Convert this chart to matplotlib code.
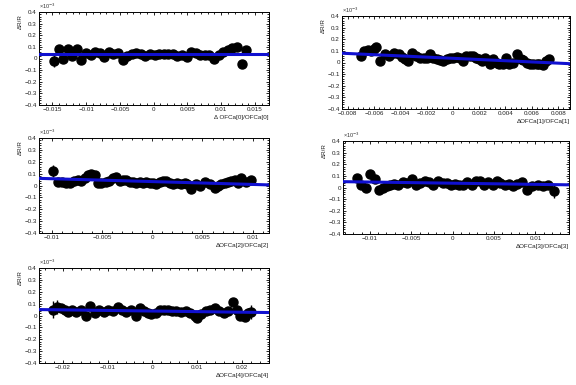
import numpy as np
import matplotlib
matplotlib.use('Agg')
import matplotlib.pyplot as plt
from matplotlib.ticker import AutoMinorLocator, MultipleLocator

plt.rcParams['font.family'] = ['Liberation Sans', 'DejaVu Sans']

# ---- data (y in units of 1e-3) ----
x0 = [-0.01475, -0.01406, -0.01342, -0.01273, -0.01204, -0.01135, -0.01071, -0.01002, -0.00933,
      -0.00863, -0.00799, -0.00735, -0.00666, -0.00597, -0.00528, -0.00459, -0.00395, -0.00326,
      -0.00257, -0.00192, -0.00123, -0.00054, 0.00015, 0.00079, 0.00148, 0.00217, 0.00281,
      0.00350, 0.00419, 0.00488, 0.00553, 0.00622, 0.00691, 0.00760, 0.00824, 0.00893,
      0.00962, 0.01026, 0.01095, 0.01164, 0.01234, 0.01303, 0.01372]
y0 = [-0.02, 0.08, -0.005, 0.08, 0.02, 0.08, -0.01, 0.05, 0.03, 0.06, 0.05, 0.01, 0.06, 0.04,
      0.05, -0.01, 0.02, 0.04, 0.05, 0.04, 0.02, 0.04, 0.03, 0.04, 0.04, 0.04, 0.04, 0.02,
      0.03, 0.01, 0.06, 0.05, 0.03, 0.03, 0.03, 0.0, 0.03, 0.06, 0.07, 0.09, 0.10, -0.05, 0.07]
big_err0 = {0: 0.05, 41: 0.03, 42: 0.03}

x1 = [-0.00695, -0.00672, -0.00647, -0.00619, -0.00599, -0.00581, -0.00551, -0.00518, -0.00485,
      -0.00445, -0.00412, -0.00387, -0.00361, -0.00344, -0.00308, -0.00278, -0.00248, -0.00222,
      -0.00197, -0.00172, -0.00147, -0.00121, -0.00096, -0.00071, -0.00045, -0.0002, 0.00005,
      0.0003, 0.00056, 0.00076, 0.00101, 0.00131, 0.00152, 0.00177, 0.00202, 0.0022, 0.00245,
      0.00263, 0.00283, 0.00308, 0.00334, 0.00354, 0.00379, 0.00404, 0.0043, 0.00455, 0.00485,
      0.00516, 0.00536, 0.00561, 0.00586, 0.00612, 0.00637, 0.00657, 0.00682, 0.00708, 0.00728]
y1 = [0.06, 0.10, 0.11, 0.10, 0.12, 0.13, 0.01, 0.07, 0.06, 0.08,
      0.07, 0.05, 0.03, 0.01, 0.08, 0.06, 0.04, 0.04, 0.04, 0.07,
      0.04, 0.03, 0.02, 0.01, 0.03, 0.04, 0.04, 0.05, 0.04, 0.01,
      0.06, 0.06, 0.06, 0.04, 0.03, 0.01, 0.04, 0.02, -0.01, 0.03,
      0.0, -0.01, -0.01, 0.04, -0.01, 0.0, 0.07, 0.03, 0.02, 0.0,
      -0.01, -0.01, -0.01, -0.01, -0.02, 0.01, 0.03]
big_err1 = {56: 0.025}

x2 = [-0.0099, -0.0094, -0.00897, -0.00857, -0.00824, -0.00784, -0.00744, -0.00708, -0.00674,
      -0.00641, -0.00608, -0.00575, -0.00541, -0.00508, -0.00465, -0.00432, -0.00392, -0.00359,
      -0.00326, -0.00292, -0.00259, -0.00226, -0.00193, -0.00159, -0.00126, -0.00093, -0.0006,
      -0.00027, 0.00007, 0.0004, 0.00073, 0.00106, 0.0014, 0.00173, 0.00206, 0.00246, 0.00289,
      0.00322, 0.00345, 0.00389, 0.00439, 0.00472, 0.00522, 0.00571, 0.00621, 0.00654, 0.00688,
      0.00721, 0.00754, 0.00787, 0.00821, 0.00854, 0.00887, 0.00937, 0.00987]
y2 = [0.12, 0.03, 0.03, 0.02, 0.02, 0.04, 0.05, 0.04, 0.06, 0.09, 0.10, 0.09, 0.02, 0.02,
      0.03, 0.04, 0.06, 0.07, 0.04, 0.05, 0.05, 0.03, 0.03, 0.02, 0.03, 0.02, 0.03, 0.02,
      0.02, 0.01, 0.03, 0.04, 0.04, 0.02, 0.01, 0.02, 0.01, 0.02, 0.01, -0.03, 0.01, 0.0,
      0.03, 0.01, -0.02, 0.0, 0.01, 0.02, 0.03, 0.04, 0.05, 0.02, 0.06, 0.03, 0.05]
big_err2 = {0: 0.05}

x3 = [-0.01157, -0.01104, -0.01044, -0.00996, -0.00936, -0.00884, -0.00843, -0.00795, -0.00755,
      -0.00707, -0.00655, -0.00602, -0.00554, -0.00494, -0.00442, -0.00394, -0.00333, -0.00281,
      -0.00233, -0.00173, -0.0012, -0.00072, -0.00024, 0.00028, 0.0008, 0.00129, 0.00177,
      0.00229, 0.00281, 0.00329, 0.00378, 0.0043, 0.00482, 0.0053, 0.00578, 0.00631, 0.00683,
      0.00731, 0.00783, 0.00839, 0.009, 0.00964, 0.01032, 0.01092, 0.01153, 0.01221]
y3 = [0.08, 0.02, 0.0, 0.12, 0.07, -0.02, 0.0, 0.01, 0.02, 0.03, 0.02, 0.05, 0.04, 0.07,
      0.02, 0.04, 0.06, 0.05, 0.02, 0.06, 0.04, 0.04, 0.02, 0.03, 0.02, 0.02, 0.05, 0.02,
      0.06, 0.06, 0.02, 0.05, 0.02, 0.06, 0.04, 0.02, 0.03, 0.01, 0.03, 0.05, -0.02, 0.01,
      0.02, 0.01, 0.02, -0.03]
big_err3 = {45: 0.06}

x4 = [-0.02216, -0.02126, -0.0203, -0.01955, -0.01881, -0.01784, -0.01695, -0.01584, -0.01472,
      -0.01383, -0.01286, -0.0119, -0.01086, -0.00989, -0.00877, -0.00766, -0.00669, -0.0058,
      -0.00468, -0.00372, -0.00268, -0.00193, -0.00097, -0.00022, 0.00074, 0.00164, 0.00253,
      0.00349, 0.00446, 0.00535, 0.00647, 0.00744, 0.00848, 0.00944, 0.00996, 0.01093, 0.0119,
      0.01294, 0.0139, 0.01487, 0.01591, 0.01688, 0.01799, 0.01888, 0.01963, 0.0206, 0.02134,
      0.02208]
y4 = [0.05, 0.07, 0.06, 0.05, 0.03, 0.05, 0.03, 0.05, 0.0, 0.08, 0.02, 0.05, 0.03, 0.05,
      0.04, 0.07, 0.05, 0.03, 0.05, 0.0, 0.06, 0.04, 0.02, 0.01, 0.02, 0.05, 0.05, 0.05,
      0.04, 0.04, 0.03, 0.04, 0.02, 0.0, -0.02, 0.01, 0.04, 0.05, 0.06, 0.04, 0.02, 0.04,
      0.11, 0.05, 0.0, -0.01, 0.02, 0.03]
big_err4 = {0: 0.07, 1: 0.06, 46: 0.04, 47: 0.06}

# fitted straight lines: (intercept, slope)
fits = [(0.035, 0.0), (0.036, -5.2), (0.033, -2.4), (0.037, -1.0), (0.0376, -0.49)]
xlims = [(-0.01697, 0.01707), (-0.00842, 0.0089), (-0.0113, 0.01163),
         (-0.01325, 0.01406), (-0.0253, 0.026)]
xlabels = ['Δ OFCa[0]/OFCa[0]', 'ΔOFCa[1]/OFCa[1]', 'ΔOFCa[2]/OFCa[2]',
           'ΔOFCa[3]/OFCa[3]', 'ΔOFCa[4]/OFCa[4]']
xmajor = [0.005, 0.002, 0.005, 0.005, 0.01]
xs = [x0, x1, x2, x3, x4]
ys = [y0, y1, y2, y3, y4]
big_errs = [big_err0, big_err1, big_err2, big_err3, big_err4]

# axes boxes in pixels: left, top, right, bottom
boxes = [(39, 12, 269, 105), (342, 16, 570, 109), (39, 138, 269, 233),
         (343, 141, 569, 234), (39, 268, 269, 363)]

W, H = 576, 385
fig = plt.figure(figsize=(W / 100, H / 100), dpi=100)


def fmt(v, p):
    if abs(v) < 1e-12:
        return '0'
    return ('%g' % round(v, 4)).replace('-', '−')


for i in range(5):
    l, t, r, b = boxes[i]
    ax = fig.add_axes([l / W, 1 - b / H, (r - l) / W, (b - t) / H])
    x = np.array(xs[i])
    y = np.array(ys[i])
    err = np.full(len(x), 0.01)
    for k, v in big_errs[i].items():
        err[k] = v
    ax.errorbar(x, y, yerr=err, fmt='o', color='black', ms=6.5, elinewidth=1.0,
                capsize=0, zorder=2)
    xl = np.array(xlims[i])
    p0, p1 = fits[i]
    ax.plot(xl, p0 + p1 * xl, color='#1010d0', lw=2.2, zorder=3)
    ax.set_xlim(*xlims[i])
    ax.set_ylim(-0.4, 0.4)
    ax.xaxis.set_major_locator(MultipleLocator(xmajor[i]))
    ax.xaxis.set_minor_locator(AutoMinorLocator(5))
    ax.yaxis.set_major_locator(MultipleLocator(0.1))
    ax.yaxis.set_minor_locator(AutoMinorLocator(5))
    ax.xaxis.set_major_formatter(plt.FuncFormatter(fmt))
    ax.yaxis.set_major_formatter(plt.FuncFormatter(fmt))
    ax.tick_params(which='both', direction='in', top=True, right=True, labelsize=4.5,
                   width=0.6, pad=1.5, colors='black', labelcolor='#222222')
    ax.tick_params(which='major', length=2.5)
    ax.tick_params(which='minor', length=1.3)
    for s in ax.spines.values():
        s.set_linewidth(0.7)
    ax.text(0.0, 1.01, '×10$^{-3}$', transform=ax.transAxes, fontsize=4.0,
            ha='left', va='bottom', color='#333333')
    fig.text((l - 21) / W, 1 - (t + 2) / H, 'ΔR/R', rotation=90, fontsize=4.5,
             ha='left', va='top', color='#222222')
    fig.text(r / W, 1 - (b + 10) / H, xlabels[i], fontsize=4.5, ha='right', va='top',
             color='#222222')

fig.savefig('out.png', dpi=100)
